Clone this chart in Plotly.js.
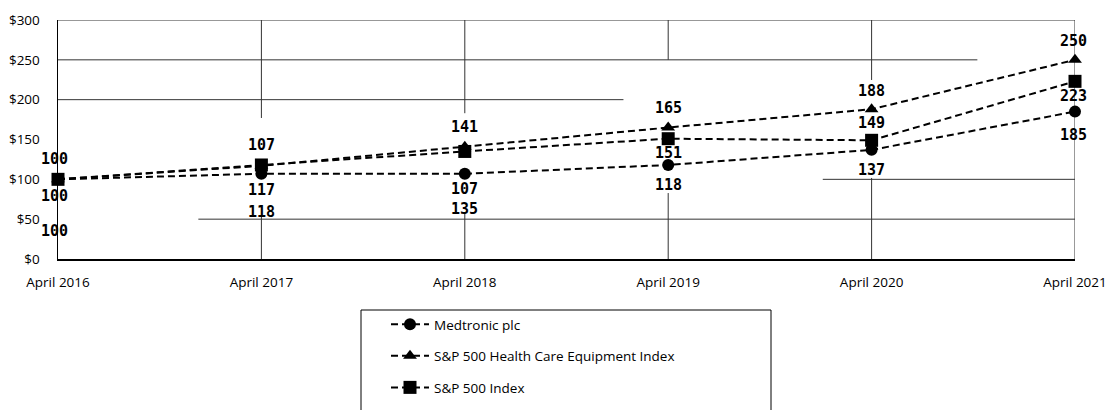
<!DOCTYPE html>
<html>
<head>
<meta charset="utf-8">
<script src="https://cdn.plot.ly/plotly-3.0.1.min.js"></script>
<style>html,body{margin:0;padding:0;background:#fff;}#chart{width:1114px;height:410px;}</style>
</head>
<body>
<div id="chart"></div>
<script>
// ---- data ----
const categories = ["April 2016", "April 2017", "April 2018", "April 2019", "April 2020", "April 2021"];
const seriesNames = ["Medtronic plc", "S&P 500 Health Care Equipment Index", "S&P 500 Index"];
const medtronic = [100, 107, 107, 118, 137, 185];
const healthCareEquip = [100, 117, 141, 165, 188, 250];
const sp500 = [100, 118, 135, 151, 149, 223];
const yTickValues = [0, 50, 100, 150, 200, 250, 300];

// ---- styles / label placement (pixel offsets, downward positive) ----
const labelOffsets = [
  [17, -29, 15, 20, 20, 23],
  [-20, 24, -20, -20, -18, -19],
  [52, 47, 58, 14, -17, 15]
];
const labelXShift = [-4, 0, 0, 0, 0, -2];
const symbols = ["circle", "triangle-up", "square"];
const markerSizes = [12, 12, 13];
const seriesValues = [medtronic, healthCareEquip, sp500];

const idx = categories.map((_, i) => i);
const traces = seriesValues.map((vals, s) => ({
  type: "scatter",
  mode: "lines+markers",
  x: idx,
  y: vals,
  name: seriesNames[s],
  legendgroup: "g" + s,
  cliponaxis: false,
  line: {color: "#000", width: 2, dash: "7px,4px"},
  marker: {symbol: symbols[s], size: markerSizes[s], color: "#000"},
  hoverinfo: "skip"
}));

const annotations = [];
seriesValues.forEach((vals, s) => {
  vals.forEach((v, i) => {
    annotations.push({
      x: i, y: v, xref: "x", yref: "y",
      text: String(v), showarrow: false,
      yshift: -labelOffsets[s][i], xshift: labelXShift[i],
      font: {family: "DejaVu Sans Mono", size: 15, color: "#000", weight: "bold"}
    });
  });
});

// gridline segments (partially hidden in the original)
const gridColor = "#333";
const hSegs = [[300, 0, 5], [250, 0, 4.52], [200, 0, 2.78], [100, 3.76, 5], [50, 0.69, 5]];
const vSegs = [[1, 177, 300], [1, 0, 52.7], [2, 183, 300], [2, 0, 57.7], [3, 250, 300], [3, 0, 82.8], [4, 224.7, 300], [4, 0, 101.7], [5, 0, 300]];
const shapes = [];
hSegs.forEach(h => shapes.push({type: "line", xref: "x", yref: "y", x0: h[1], x1: h[2], y0: h[0], y1: h[0], layer: "below", line: {color: gridColor, width: 1}}));
vSegs.forEach(v => shapes.push({type: "line", xref: "x", yref: "y", x0: v[0], x1: v[0], y0: v[1], y1: v[2], layer: "below", line: {color: gridColor, width: 1}}));
// legend box (extends past the bottom of the picture)
shapes.push({type: "rect", xref: "paper", yref: "paper", x0: (361 - 58) / 1017, x1: (771 - 58) / 1017, y0: (259 - 310) / 239, y1: (259 - 440) / 239, line: {color: "#000", width: 1}, fillcolor: "rgba(0,0,0,0)"});

const tickFont = {family: "Open Sans", size: 13.5, color: "#000"};
const layout = {
  width: 1114, height: 410,
  margin: {l: 58, r: 39, t: 20, b: 151, autoexpand: false},
  paper_bgcolor: "#fff", plot_bgcolor: "#fff",
  showlegend: true,
  legend: {
    x: (386 - 58) / 1017, xanchor: "left",
    y: (259 - 309) / 239, yanchor: "top",
    bgcolor: "rgba(0,0,0,0)", borderwidth: 0,
    itemwidth: 38, tracegroupgap: 11,
    font: {family: "Open Sans", size: 13.5, color: "#000"}
  },
  xaxis: {
    type: "linear", range: [0, 5], tickvals: idx, ticktext: categories,
    showgrid: false, zeroline: false, showline: true, linecolor: "#000", linewidth: 1.5,
    ticks: "outside", ticklen: 10, tickcolor: "rgba(0,0,0,0)", tickfont: tickFont
  },
  yaxis: {
    range: [0, 300], tickvals: yTickValues, ticktext: yTickValues.map(v => "$" + v),
    showgrid: false, zeroline: false, showline: true, linecolor: "#000", linewidth: 1.5,
    ticks: "outside", ticklen: 14, tickcolor: "rgba(0,0,0,0)", tickfont: tickFont
  },
  shapes: shapes,
  annotations: annotations
};

Plotly.newPlot("chart", traces, layout, {displayModeBar: false, staticPlot: true});
</script>
</body>
</html>
